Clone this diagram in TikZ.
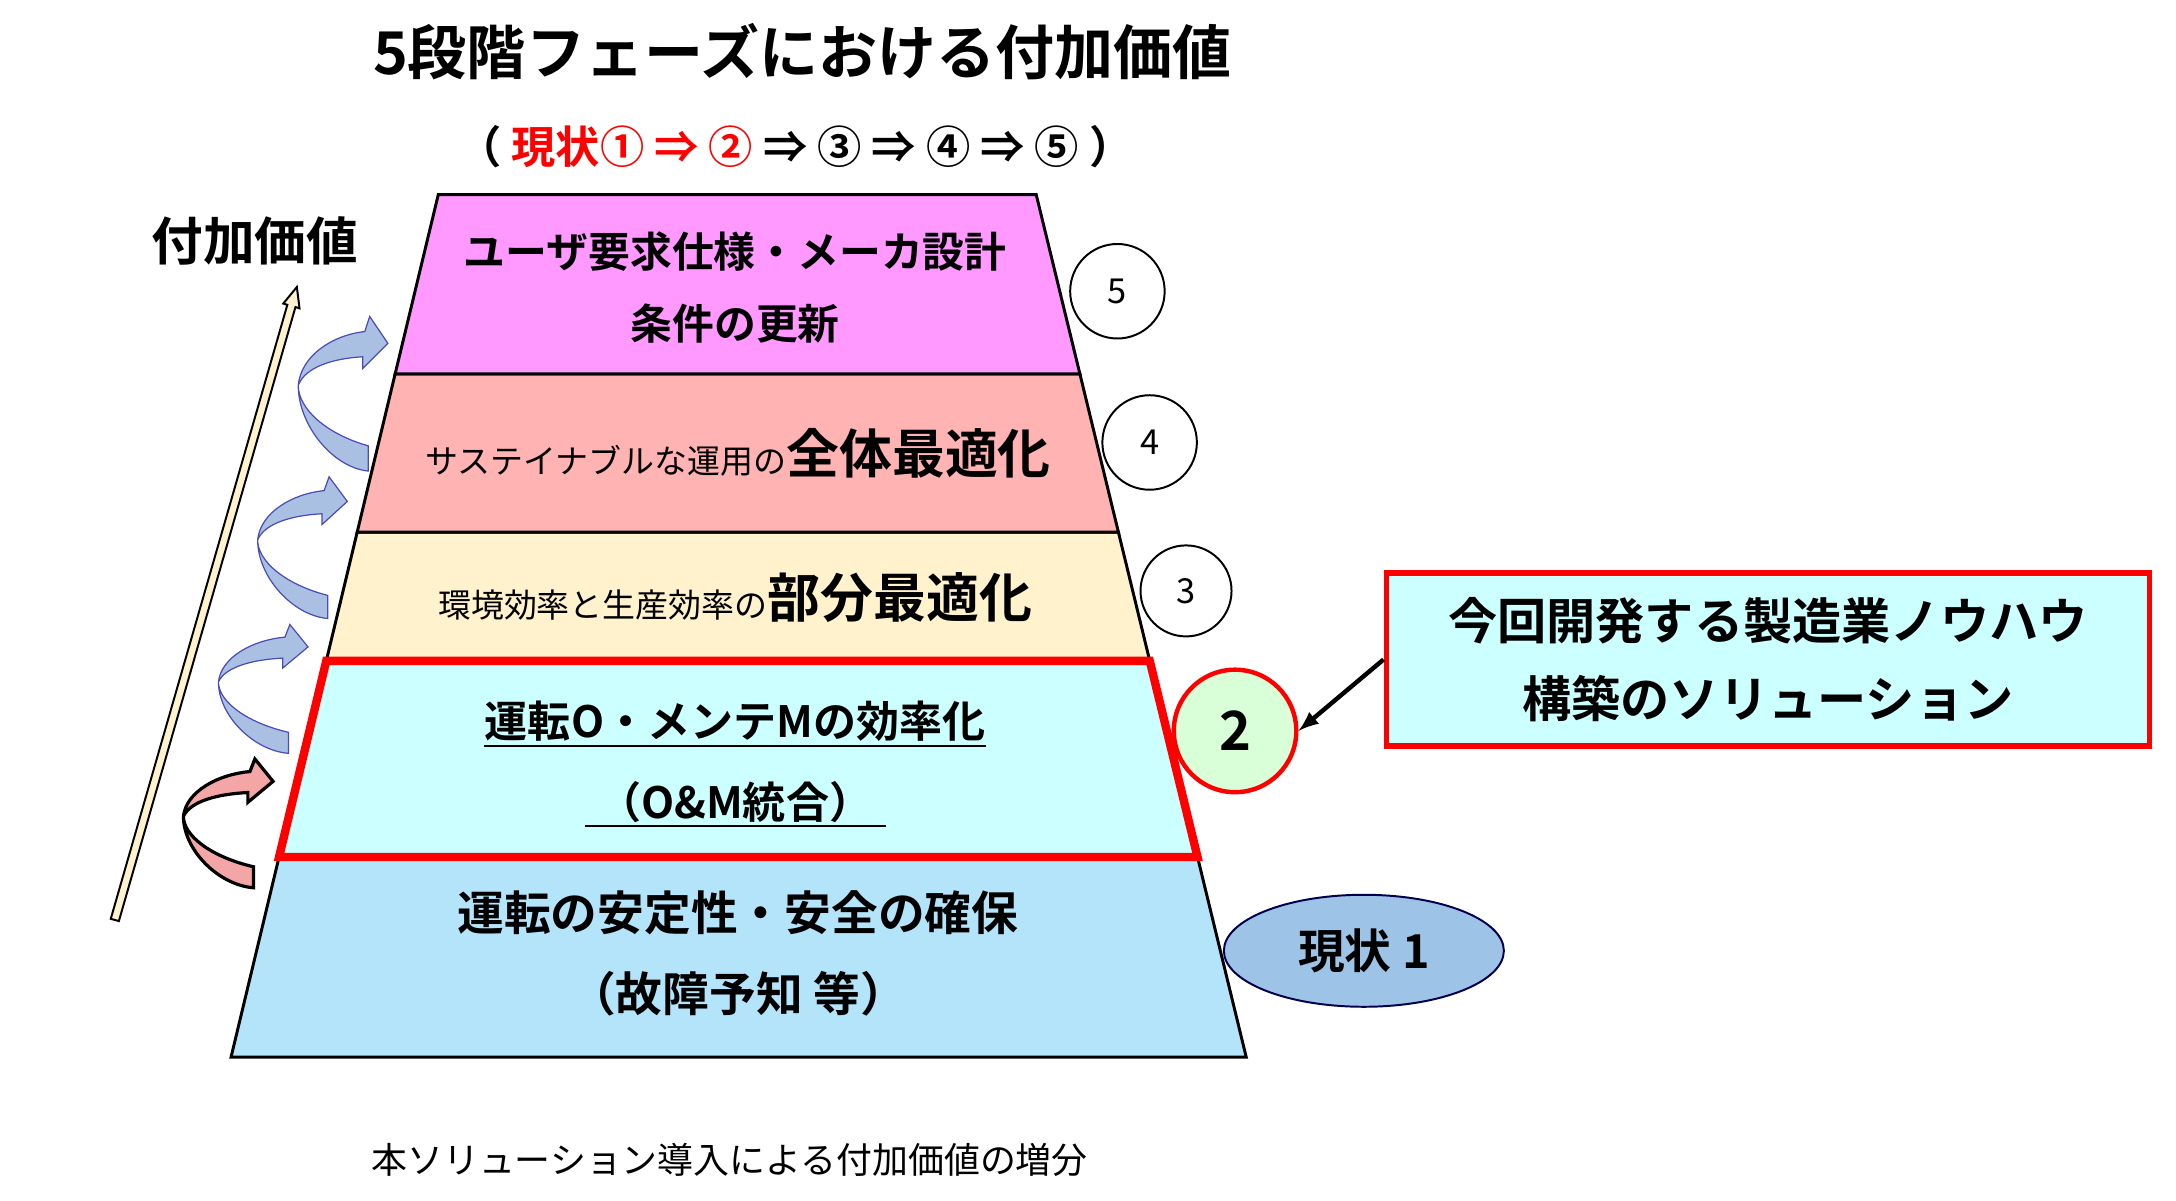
\documentclass[tikz,border=0pt]{standalone}
\usepackage{fontspec}
\usetikzlibrary{shapes.geometric}
\setmainfont{Noto Sans CJK JP}
\newfontfamily\jb{Noto Sans CJK JP Bold}
\begin{document}
\begin{tikzpicture}[x=0.02cm,y=-0.02cm,
  layer/.style={draw=black,line width=1.2pt},
  num/.style={circle,draw=black,line width=0.8pt,fill=white,minimum size=1.35cm,inner sep=0pt,font=\fontsize{14}{16}\selectfont},
  txt/.style={inner sep=0pt,font=\jb}]
\useasboundingbox (0,0) rectangle (1554,857);
\definecolor{c5}{HTML}{FF99FF}\definecolor{c4}{HTML}{FFB3B3}\definecolor{c3}{HTML}{FFF2CC}
\definecolor{c2}{HTML}{CCFFFF}\definecolor{c1}{HTML}{B4E4FA}\definecolor{ribb}{HTML}{A9C0E3}
\definecolor{ell}{HTML}{9DC3E6}\definecolor{redrib}{HTML}{F4A6A6}
% layers
\fill[c1,layer] (199.3,612) -- (855.2,612) -- (890,755) -- (165,755) -- cycle;
\fill[c3,layer] (255.1,380) -- (798.7,380) -- (821.1,472) -- (233,472) -- cycle;
\fill[c4,layer] (282.2,267) -- (771.2,267) -- (798.7,380) -- (255.1,380) -- cycle;
\fill[c5,layer] (313,139) -- (740,139) -- (771.2,267) -- (282.2,267) -- cycle;
\filldraw[fill=c2,draw=red,line width=3.4pt] (233,472) -- (821.1,472) -- (855.2,612) -- (199.3,612) -- cycle;
% texts
\node[txt,font=\jb\fontsize{24}{28}\selectfont] (title) at (573,37) {5段階フェーズにおける付加価値};
\node[txt,font=\jb\fontsize{18}{22}\selectfont] (sub) at (568,105) {（ \textcolor{red}{現状① ⇒ ②} ⇒ ③ ⇒ ④ ⇒ ⑤ ）};
\node[txt,font=\jb\fontsize{17}{20}\selectfont] (t5a) at (525,180) {ユーザ要求仕様・メーカ設計};
\node[txt,font=\jb\fontsize{17}{20}\selectfont] (t5b) at (525,231) {条件の更新};
\node[txt] (t4) at (527,324) {{\fontspec{Noto Sans CJK JP}\fontsize{13.4}{16}\selectfont サステイナブルな運用の}{\fontsize{21.5}{24}\selectfont 全体最適化}};
\node[txt] (t3) at (525,427) {{\fontspec{Noto Sans CJK JP}\fontsize{13.4}{16}\selectfont 環境効率と生産効率の}{\fontsize{21.5}{24}\selectfont 部分最適化}};
\node[txt,font=\jb\fontsize{17.5}{20}\selectfont] (t2a) at (525,515) {運転O・メンテMの効率化};
\draw[line width=0.8pt] ([yshift=-1.7pt]t2a.south west) -- ([yshift=-1.7pt]t2a.south east);
\node[txt,font=\jb\fontsize{17.5}{20}\selectfont] (t2b) at (525,573) {（O\&M統合）};
\draw[line width=0.8pt] (418,590) -- (633,590);
\node[txt,font=\jb\fontsize{19}{22}\selectfont] (t1a) at (527,652) {運転の安定性・安全の確保};
\node[txt,font=\jb\fontsize{19}{22}\selectfont] (t1b) at (527,710) {（故障予知 等）};
\node[txt,font=\jb\fontsize{21}{24}\selectfont] (fk) at (182,172) {付加価値};
\node[inner sep=0pt,font=\fontsize{14.6}{17}\selectfont] (bot) at (521,828) {本ソリューション導入による付加価値の増分};
% numbered circles
\node[num] (n5) at (798,208) {5};
\node[num] (n4) at (821,316) {4};
\node[num,minimum size=1.3cm] (n3) at (847,422) {3};
\node[circle,draw=red,line width=1.8pt,fill=green!15!white,minimum size=1.75cm,inner sep=0pt,font=\jb\fontsize{22}{24}\selectfont] (n2) at (882,522) {2};
\node[ellipse,draw=black!70!blue,line width=0.8pt,fill=ell,minimum width=4cm,minimum height=1.6cm,inner sep=0pt,font=\jb\fontsize{19}{22}\selectfont] (n1) at (974,679) {現状 1};
% right box
\node[draw=red,line width=2.3pt,fill=c2,minimum width=10.9cm,minimum height=2.48cm,align=center,font=\jb\fontsize{20}{32}\selectfont] (box) at (1262.5,471) {今回開発する製造業ノウハウ\\構築のソリューション};
\draw[-latex,line width=1.8pt] (box.west) -- (n2.east);
% long arrow
\filldraw[fill=c3,draw=black,line width=0.8pt] (84.9,657.8) -- (211.0,219.3) -- (213.9,220.2) -- (212,205) -- (202.3,216.8) -- (205.2,217.7) -- (79.1,656.2) -- cycle;
% ribbon arrows
\def\ribbon{(0,-8) .. controls (-30,-15) and (-50,-30) .. (-50,-44) .. controls (-48,-62) and (-25,-74) .. (-2.5,-76) -- (1,-85) -- (14,-69) -- (-4,-54) -- (-4,-61) .. controls (-25,-60) and (-45,-55) .. (-50,-44) .. controls (-50,-20) and (-25,5) .. (0,7) -- cycle}
\filldraw[fill=redrib,draw=black,line width=1.3pt,shift={(181,627)}] \ribbon;
\filldraw[fill=ribb,draw=blue!60!black!70,line width=0.5pt,shift={(206,531)}] \ribbon;
\filldraw[fill=ribb,draw=blue!60!black!70,line width=0.5pt,shift={(234,434)},yscale=1.1] \ribbon;
\filldraw[fill=ribb,draw=blue!60!black!70,line width=0.5pt,shift={(263,328)},yscale=1.2] \ribbon;
\end{tikzpicture}
\end{document}
